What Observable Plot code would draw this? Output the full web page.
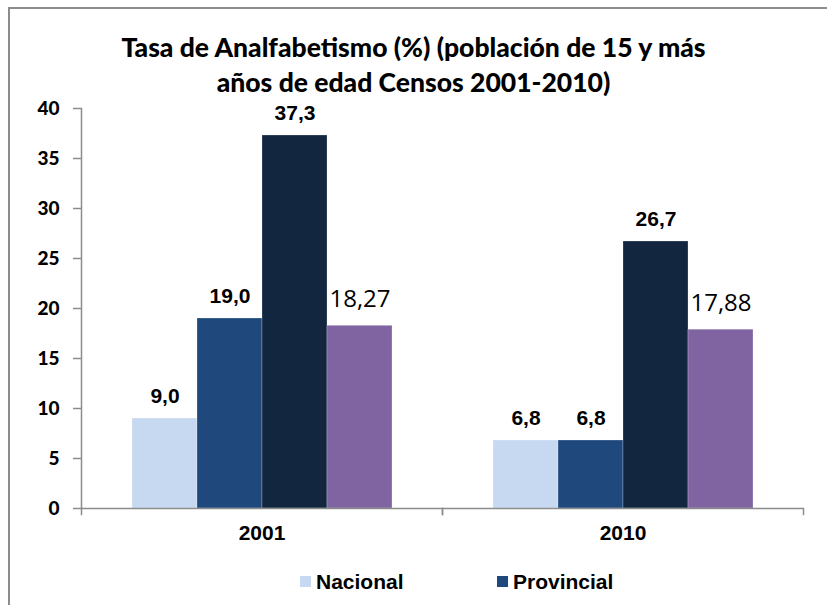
<!DOCTYPE html>
<html><head><meta charset="utf-8">
<script src="https://cdn.jsdelivr.net/npm/d3@7"></script>
<script src="https://cdn.jsdelivr.net/npm/@observablehq/plot@0.6"></script>
<style>
body{margin:0;background:#fff;}
#wrap{position:relative;width:827px;height:605px;overflow:hidden;background:#fff;}
#border{position:absolute;left:8px;top:7px;width:900px;height:700px;border:2px solid #8c8c8c;}
#title{position:absolute;left:0;top:30px;width:827px;text-align:center;font-family:Lato,sans-serif;font-weight:900;font-size:26.5px;line-height:35px;color:#000;}
#chart{position:absolute;left:0;top:95px;}
.leg{position:absolute;top:570px;font-family:"Liberation Sans",Arial,sans-serif;font-weight:bold;font-size:21px;line-height:24px;color:#000;white-space:nowrap;}
.leg span{display:inline-block;width:11px;height:11px;margin-right:5px;vertical-align:2px;}
</style></head>
<body>
<div id="wrap">
  <div id="border"></div>
  <div id="title">Tasa de Analfabetismo (%) (población de 15 y más<br>años de edad Censos 2001-2010)</div>
  <div id="chart"></div>
  <div id="legend"></div>
</div>
<script>
const years = ["2001", "2010"];
const series = ["Nacional", "Provincial", "Serie 3", "Serie 4"];
const colors = ["#C6D9F1", "#1F497D", "#12263F", "#8064A2"];
const values2001 = [9.0, 19.0, 37.3, 18.27];
const values2010 = [6.8, 6.8, 26.7, 17.88];
const decimals = [1, 1, 1, 2];
const yTicks = [0, 5, 10, 15, 20, 25, 30, 35, 40];
const legendSeries = ["Nacional", "Provincial"];

const rows = [];
[values2001, values2010].forEach((vals, i) => {
  vals.forEach((v, j) => rows.push({
    year: years[i], series: series[j], value: v,
    label: v.toFixed(decimals[j]).replace(".", ","), plain: j === 3
  }));
});

const chart = Plot.plot({
  width: 827,
  height: 450,
  marginLeft: 80,
  marginRight: 24,
  marginTop: 13,
  marginBottom: 37,
  style: {background: "transparent", overflow: "visible"},
  fx: {domain: years, padding: 0, label: null},
  x: {domain: series, paddingInner: 0, paddingOuter: 0.74, axis: null},
  y: {domain: [0, 40], label: null},
  color: {domain: series, range: colors},
  marks: [
    Plot.barY(rows, {fx: "year", x: "series", y: "value", fill: "series", stroke: "#ffffff", strokeOpacity: 0.35, strokeWidth: 0.7}),
    Plot.ruleY([0], {stroke: "#8c8c8c", strokeWidth: 1.5}),
    Plot.frame({anchor: "left", facetAnchor: "left", stroke: "#8c8c8c", strokeWidth: 1.5}),
    Plot.frame({anchor: "left", stroke: "#8c8c8c", strokeWidth: 1.5, insetTop: 400, insetBottom: -6}),
    Plot.frame({anchor: "right", stroke: "#8c8c8c", strokeWidth: 1.5, insetTop: 400, insetBottom: -6}),
    Plot.axisY({ticks: yTicks, tickSize: 8, tickPadding: 14, stroke: "#8c8c8c", strokeWidth: 1.5, color: "#000", fontSize: 19, fontWeight: "900", fontFamily: "Lato, sans-serif", label: null}),
    Plot.axisFx({anchor: "bottom", tickSize: 0, tickPadding: 17, fontSize: 21, fontWeight: "bold", fontFamily: "Liberation Sans, Arial, sans-serif", label: null, color: "#000"}),
    Plot.text(rows.filter(d => !d.plain), {fx: "year", x: "series", y: "value", text: "label", dy: -22, fontSize: 21, fontWeight: "bold", fontFamily: "Liberation Sans, Arial, sans-serif", fill: "#000"}),
    Plot.text(rows.filter(d => d.plain), {fx: "year", x: "series", y: "value", text: "label", dy: -26, fontSize: 24, fontFamily: "Open Sans, sans-serif", fill: "#000"})
  ]
});
document.getElementById("chart").appendChild(chart);

const legend = document.getElementById("legend");
const legendLeft = [300, 497];
legendSeries.forEach((s, i) => {
  const d = document.createElement("div");
  d.className = "leg";
  d.style.left = legendLeft[i] + "px";
  const sw = document.createElement("span");
  sw.style.background = colors[series.indexOf(s)];
  d.appendChild(sw);
  d.appendChild(document.createTextNode(s));
  legend.appendChild(d);
});
</script>
</body></html>
